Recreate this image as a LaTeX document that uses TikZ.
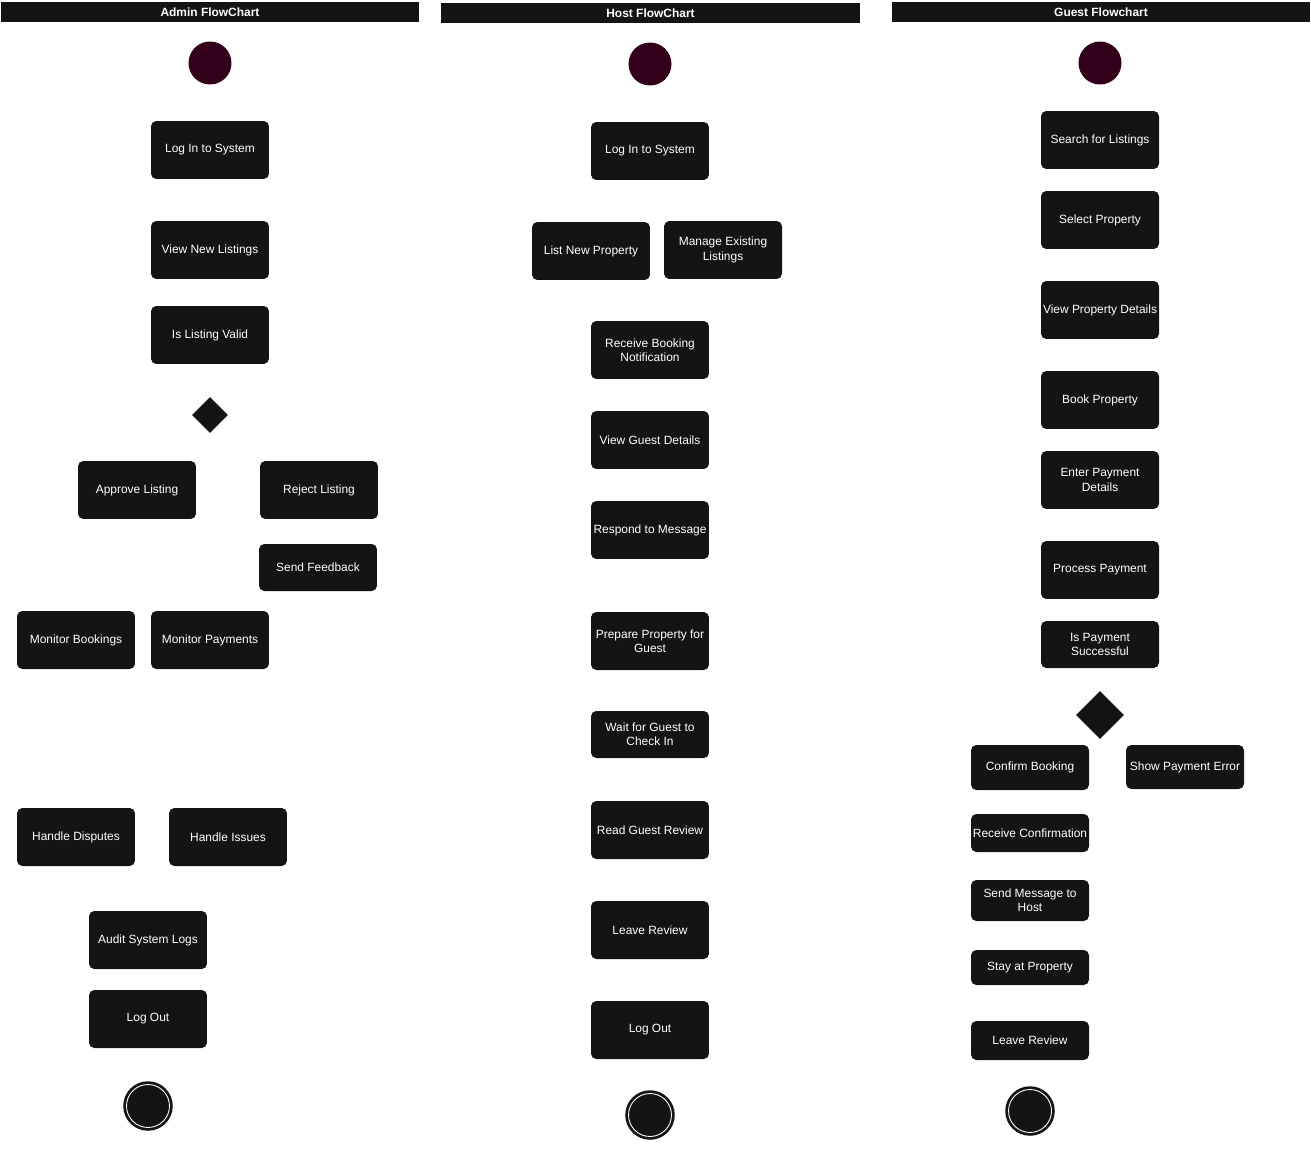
\documentclass[tikz,border=0pt]{standalone}
\usepackage{fontspec}
\setmainfont{Liberation Sans}
\usetikzlibrary{shapes.geometric}
\definecolor{boxfill}{HTML}{141414}
\definecolor{startfill}{HTML}{33001A}

\begin{document}
\begin{tikzpicture}[
    x=0.02cm, y=-0.02cm,
    head/.style={fill=boxfill, minimum width=8.38cm, minimum height=0.4cm, inner sep=0pt, text=white, font=\fontsize{6.8}{8}\selectfont\bfseries},
    box/.style={fill=boxfill, rounded corners=3pt, minimum width=2.36cm, minimum height=1.16cm, inner sep=1pt, align=center, text=white, font=\fontsize{6.8}{8.2}\selectfont},
    sbox/.style={box, minimum height=0.94cm},
    xbox/.style={box, minimum height=0.76cm},
    dec/.style={diamond, fill=boxfill, minimum size=0.72cm, inner sep=0pt},
    bigdec/.style={dec, minimum size=0.96cm},
    start/.style={circle, fill=startfill, minimum size=0.86cm, inner sep=0pt},
    stop/.style={circle, fill=boxfill, draw=boxfill, double=white, double distance=0.5pt, line width=1.6pt, minimum size=0.86cm, inner sep=0pt}
]
\useasboundingbox (0,0) rectangle (1311,1152);

% Admin
\node[head] (ahead) at (210,12) {Admin FlowChart};
\node[start] (astart) at (210,63) {};
\node[box] (alogin) at (210,150) {Log In to System};
\node[box] (aview) at (210,250) {View New Listings};
\node[box] (avalid) at (210,335) {Is Listing Valid};
\node[dec] (adec) at (210,415) {};
\node[box] (aapprove) at (137,490) {Approve Listing};
\node[box] (areject) at (319,490) {Reject Listing};
\node[sbox] (afeed) at (318,567.5) {Send Feedback};
\node[box] (abook) at (76,640) {Monitor Bookings};
\node[box] (apay) at (210,640) {Monitor Payments};
\node[box] (adisp) at (76,837) {Handle Disputes};
\node[box] (aissue) at (228,837) {Handle Issues};
\node[box] (aaudit) at (148,940) {Audit System Logs};
\node[box] (alogout) at (148,1019) {Log Out};
\node[stop] (astop) at (148,1106) {};

% Host
\node[head] (hhead) at (650.5,13) {Host FlowChart};
\node[start] (hstart) at (650,64) {};
\node[box] (hlogin) at (650,151) {Log In to System};
\node[box] (hlist) at (591,251) {List New Property};
\node[box] (hmanage) at (723,250) {Manage Existing\\Listings};
\node[box] (hnotif) at (650,350) {Receive Booking\\Notification};
\node[box] (hguest) at (650,440) {View Guest Details};
\node[box] (hmsg) at (650,530) {Respond to Message};
\node[box] (hprep) at (650,641) {Prepare Property for\\Guest};
\node[sbox] (hwait) at (650,734.5) {Wait for Guest to\\Check In};
\node[box] (hread) at (650,830) {Read Guest Review};
\node[box] (hleave) at (650,930) {Leave Review};
\node[box] (hlogout) at (650,1030) {Log Out};
\node[stop] (hstop) at (650,1115) {};

% Guest
\node[head] (ghead) at (1101,12) {Guest Flowchart};
\node[start] (gstart) at (1100,63) {};
\node[box] (gsearch) at (1100,140) {Search for Listings};
\node[box] (gselect) at (1100,220) {Select Property};
\node[box] (gdetail) at (1100,310) {View Property Details};
\node[box] (gbook) at (1100,400) {Book Property};
\node[box] (genter) at (1100,480) {Enter Payment\\Details};
\node[box] (gproc) at (1100,570) {Process Payment};
\node[sbox] (gok) at (1100,644.5) {Is Payment\\Successful};
\node[bigdec] (gdec) at (1100,715) {};
\node[sbox, minimum height=0.9cm] (gconfirm) at (1030,767.5) {Confirm Booking};
\node[sbox, minimum height=0.88cm] (gerror) at (1185,767) {Show Payment Error};
\node[xbox] (grecv) at (1030,833) {Receive Confirmation};
\node[xbox, minimum height=0.82cm] (gsend) at (1030,900.5) {Send Message to\\Host};
\node[xbox, minimum height=0.7cm] (gstay) at (1030,967.5) {Stay at Property};
\node[xbox, minimum height=0.78cm] (gleave) at (1030,1040.5) {Leave Review};
\node[stop] (gstop) at (1030,1111) {};
\end{tikzpicture}
\end{document}
